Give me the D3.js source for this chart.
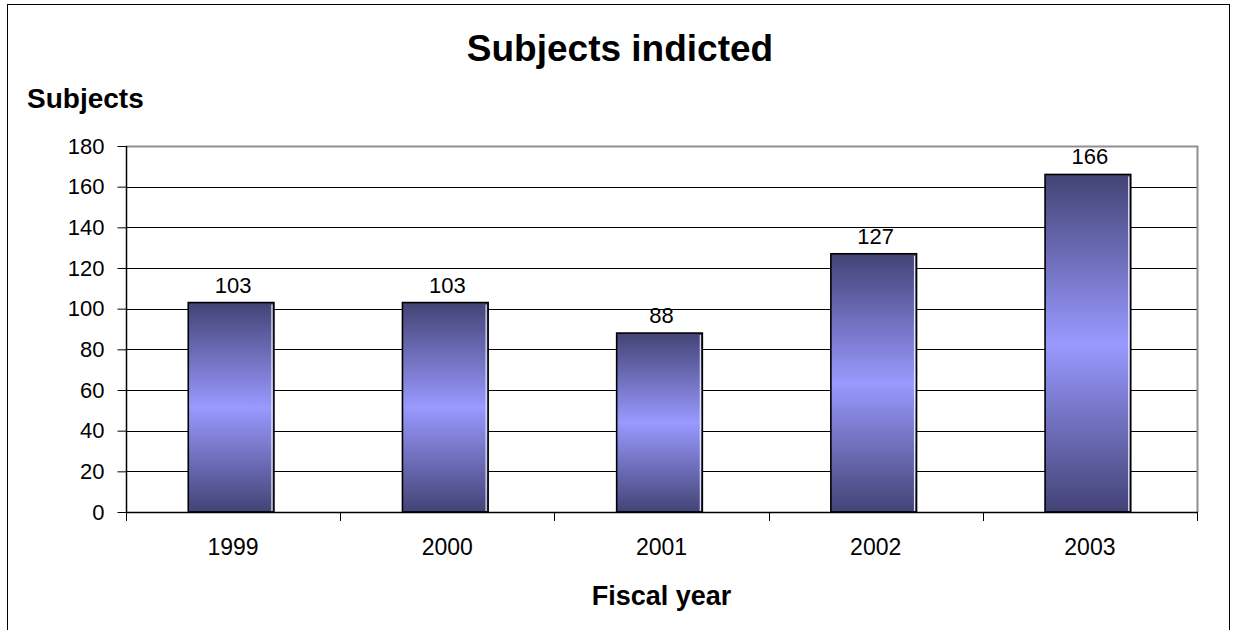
<!DOCTYPE html>
<html>
<head>
<meta charset="utf-8">
<script src="https://cdn.jsdelivr.net/npm/d3@7/dist/d3.min.js"></script>
<style>
  html, body { margin: 0; padding: 0; background: #fff; }
  svg { display: block; font-family: Arial, "Liberation Sans", sans-serif; }
</style>
</head>
<body>
<svg id="chart" width="1235" height="630"></svg>
<script>
// Subjects indicted per fiscal year
const years = ["1999", "2000", "2001", "2002", "2003"];
const subjects = [103, 103, 88, 127, 166];
const yTicks = [0, 20, 40, 60, 80, 100, 120, 140, 160, 180];

const svg = d3.select("#chart");
const plot = { left: 126, right: 1197, top: 146, bottom: 512 };

// outer chart frame (runs past the bottom edge)
svg.append("rect")
  .attr("x", 7.5).attr("y", 4.5)
  .attr("width", 1222).attr("height", 700)
  .attr("fill", "#fff").attr("stroke", "#000").attr("stroke-width", 1);

const x = d3.scaleBand().domain(years).range([plot.left, plot.right]).paddingInner(0.6).paddingOuter(0.3);
const y = d3.scaleLinear().domain([0, 180]).range([plot.bottom, plot.top]);
const barShift = -2;

// bar gradient: dark edges, light centre
const defs = svg.append("defs");
const grad = defs.append("linearGradient").attr("id", "barFill")
  .attr("x1", 0).attr("y1", 0).attr("x2", 0).attr("y2", 1);
grad.append("stop").attr("offset", "0%").attr("stop-color", "#434376");
grad.append("stop").attr("offset", "50%").attr("stop-color", "#9999ff");
grad.append("stop").attr("offset", "100%").attr("stop-color", "#434376");

// horizontal gridlines
svg.append("g")
  .selectAll("line")
  .data(yTicks.filter(d => d > 0 && d < 180))
  .join("line")
  .attr("x1", plot.left).attr("x2", plot.right)
  .attr("y1", d => Math.round(y(d)) + 0.5).attr("y2", d => Math.round(y(d)) + 0.5)
  .attr("stroke", "#000").attr("stroke-width", 1);

// plot area border (top & right)
svg.append("path")
  .attr("d", `M${plot.left},${plot.top + 0.5}H${plot.right + 0.5}V${plot.bottom}`)
  .attr("fill", "none").attr("stroke", "#909090").attr("stroke-width", 2);

// y axis
const yAxis = d3.axisLeft(y).tickValues(yTicks).tickSize(9).tickPadding(13);
const gy = svg.append("g").attr("transform", `translate(${plot.left + 0.5},0)`).call(yAxis);
gy.select(".domain").attr("stroke", "#000").attr("stroke-width", 1.5).attr("d", `M0,${plot.top}V${plot.bottom}`);
gy.selectAll(".tick line").attr("stroke", "#000");
gy.selectAll(".tick text").attr("font-size", 22).attr("fill", "#000")
  .attr("font-family", "Arial, 'Liberation Sans', sans-serif");

// bars
const bars = svg.append("g").attr("transform", `translate(${barShift},0)`);
bars.selectAll("rect")
  .data(years)
  .join("rect")
  .attr("x", d => x(d))
  .attr("y", (d, i) => y(subjects[i]))
  .attr("width", x.bandwidth())
  .attr("height", (d, i) => y(0) - y(subjects[i]))
  .attr("fill", "url(#barFill)")
  .attr("stroke", "#000").attr("stroke-width", 1.6);
// light highlight along the right edge
bars.selectAll("line")
  .data(years)
  .join("line")
  .attr("x1", d => x(d) + x.bandwidth() - 2).attr("x2", d => x(d) + x.bandwidth() - 2)
  .attr("y1", (d, i) => y(subjects[i]) + 2).attr("y2", y(0) - 1)
  .attr("stroke", "#e8e8f0").attr("stroke-width", 1.2);

// value labels
svg.append("g")
  .selectAll("text")
  .data(years)
  .join("text")
  .attr("x", d => x(d) + x.bandwidth() / 2)
  .attr("y", (d, i) => y(subjects[i]) - 10)
  .attr("text-anchor", "middle")
  .attr("font-size", 22).attr("fill", "#000")
  .text((d, i) => subjects[i]);

// x axis: baseline and ticks at category boundaries
svg.append("line")
  .attr("x1", plot.left).attr("x2", plot.right + 1)
  .attr("y1", plot.bottom + 0.5).attr("y2", plot.bottom + 0.5)
  .attr("stroke", "#000").attr("stroke-width", 1.5);
const step = (plot.right - plot.left) / years.length;
svg.append("g")
  .selectAll("line")
  .data(d3.range(years.length + 1))
  .join("line")
  .attr("x1", i => Math.round(plot.left + i * step) + 0.5).attr("x2", i => Math.round(plot.left + i * step) + 0.5)
  .attr("y1", plot.bottom).attr("y2", plot.bottom + 9)
  .attr("stroke", "#000").attr("stroke-width", 1);
svg.append("g")
  .selectAll("text")
  .data(years)
  .join("text")
  .attr("x", d => x(d) + x.bandwidth() / 2)
  .attr("y", 555)
  .attr("text-anchor", "middle")
  .attr("font-size", 23).attr("fill", "#000")
  .text(d => d);

// titles
svg.append("text")
  .attr("x", 620).attr("y", 61)
  .attr("text-anchor", "middle")
  .attr("font-size", 37).attr("font-weight", "bold")
  .text("Subjects indicted");
svg.append("text")
  .attr("x", 27).attr("y", 108)
  .attr("font-size", 28).attr("font-weight", "bold")
  .text("Subjects");
svg.append("text")
  .attr("x", (plot.left + plot.right) / 2).attr("y", 605)
  .attr("text-anchor", "middle")
  .attr("font-size", 27).attr("font-weight", "bold")
  .text("Fiscal year");
</script>
</body>
</html>
